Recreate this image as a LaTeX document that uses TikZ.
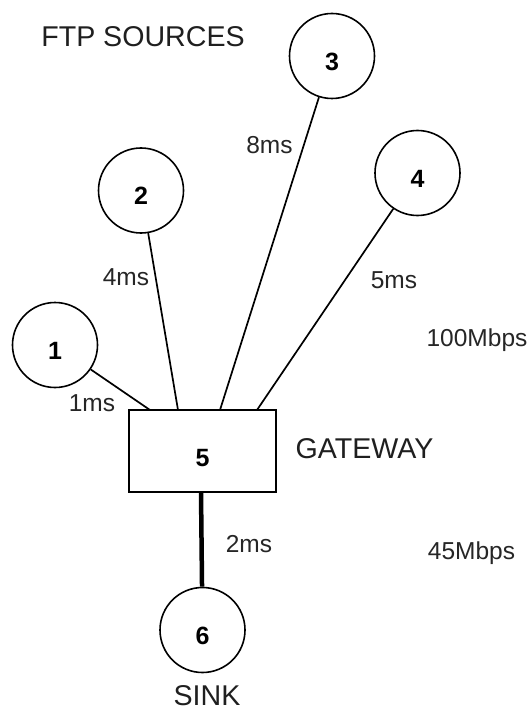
\documentclass[tikz,border=0pt]{standalone}
\usepackage{fontspec}
\setmainfont{Liberation Sans}
\begin{document}
\begin{tikzpicture}[x=1pt,y=-1pt,
  host/.style={circle,draw,line width=1.6pt,minimum size=85pt,inner sep=0pt,
    font=\fontsize{25}{28}\selectfont\bfseries,text height=29pt,text depth=0pt},
  router/.style={rectangle,draw,line width=1.6pt,minimum width=147pt,minimum height=82pt,
    inner sep=0pt,font=\fontsize{25}{28}\selectfont\bfseries,text height=30pt,text depth=0pt},
  link/.style={line width=1.7pt},
  trunk/.style={line width=4.5pt},
  title/.style={font=\fontsize{28.6}{32}\selectfont,text=black!88},
  note/.style={font=\fontsize{24.5}{28}\selectfont,text=black!85,inner sep=0pt}]
\useasboundingbox[fill=white] (0,0) rectangle (529,711);

% hosts and gateway
\node[host]   (n1) at (55,345)    {1};
\node[host]   (n2) at (141,190.5) {2};
\node[host]   (n3) at (332,56)    {3};
\node[host]   (n4) at (417.5,173) {4};
\node[router] (gw) at (202.5,451) {5};
\node[host]   (n6) at (202.5,630) {6};

% attachment points on the top edge of the gateway
\coordinate (a1) at (150,410);
\coordinate (a2) at (178,410);
\coordinate (a3) at (220,410);
\coordinate (a4) at (257,410);
\coordinate (b6) at (201,492);

% access links
\draw[link] (n1) -- (a1);
\draw[link] (n2) -- (a2);
\draw[link] (n3) -- (a3);
\draw[link] (n4) -- (a4);
% bottleneck link
\draw[trunk] (b6) -- (n6);

% delay labels
\node[note] (d1) at (92,403)    {1ms};
\node[note] (d2) at (126,277)   {4ms};
\node[note] (d3) at (269.5,145) {8ms};
\node[note] (d4) at (394,280)   {5ms};
\node[note] (d6) at (249,544)   {2ms};

% bandwidth labels
\node[note] (bw1) at (477,340)   {100Mbps};
\node[note] (bw2) at (471.5,553) {45Mbps};

% titles
\node[title] (t1) at (143,37)   {FTP SOURCES};
\node[title] (t2) at (364.5,449) {GATEWAY};
\node[title] (t3) at (207,696)  {SINK};
\end{tikzpicture}
\end{document}
